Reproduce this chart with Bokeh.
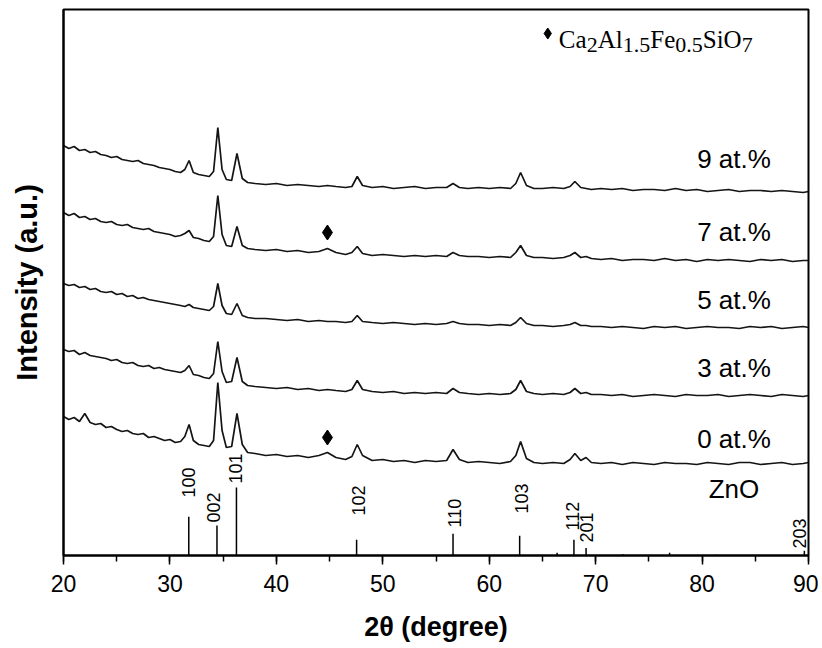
import numpy as np
from bokeh.plotting import figure
from bokeh.models import Range1d, SingleIntervalTicker, FixedTicker, ColumnDataSource
from bokeh.core.properties import value
from bokeh.embed import file_html
from bokeh.resources import INLINE

# ---------------- data ----------------
two_theta = [
    20, 20.5, 21, 21.5, 22, 22.5, 23, 23.5, 24, 24.5, 25, 25.5, 26, 26.5, 27, 27.5, 28, 28.5, 29, 29.5, 30, 30.5, 31,
    31.4, 31.8, 32.2, 32.7, 33.2, 33.7, 34.1, 34.5, 34.9, 35.3, 35.8, 36.3, 36.8, 37.3, 38,
    39, 40, 41, 42, 43, 44, 44.8, 45.6, 46.5, 47.1, 47.6, 48.1,
    49, 50, 51, 52, 53, 54, 55, 56, 56.6, 57.2, 58, 59, 60, 61, 62, 62.5, 62.95, 63.5, 64.2,
    65, 66, 67, 67.6, 68.05, 68.6, 69.1, 69.6,
    70.5, 71.5, 72.5, 73.5, 74.5, 75.5, 76.5, 77.5, 78.5, 79.5, 80.5, 81.5, 82.5, 83.5, 84.5, 85.5, 86.5, 87.5, 88.5, 89.5, 90,
]

int_0at = [
    47, 44, 46, 42, 50, 41, 39, 40, 36, 37, 34, 32, 33, 30, 29, 30, 26, 27, 25, 23, 24, 21, 22,
    27, 39, 23, 19, 18, 17, 23, 81, 33, 16, 17, 50, 19, 11, 10,
    8, 9, 7, 8, 6, 8, 11, 6, 4, 7, 19, 8,
    3, 4, 2, 3, 1, 3, 2, 3, 14, 4, 1, 2, 1, 0, 2, 8, 22, 5, 1,
    0, 1, 0, 4, 10, 3, 6, 1,
    0, 1, -1, 1, 0, -1, 1, 0, 0, -1, 1, 0, -1, 1, 1, -1, 0, 1, -1, 0, 1,
]
int_3at = [
    46, 44, 45, 41, 43, 40, 39, 38, 37, 35, 36, 33, 32, 33, 30, 29, 30, 27, 28, 26, 25, 24, 23,
    25, 30, 21, 20, 18, 17, 22, 54, 24, 13, 14, 38, 14, 10, 9,
    8, 7, 8, 6, 7, 5, 6, 5, 4, 6, 15, 6,
    4, 3, 4, 2, 3, 2, 3, 2, 7, 3, 2, 1, 2, 1, 2, 6, 15, 4, 2,
    1, 2, 1, 3, 7, 2, 3, 1,
    1, 0, 1, -1, 0, 1, 0, -1, 1, 0, 0, 1, -1, 0, 1, 0, -1, 1, 0, -1, 0,
]
int_5at = [
    44, 42, 43, 40, 41, 38, 39, 36, 35, 36, 33, 34, 31, 32, 29, 30, 28, 27, 26, 25, 24, 23, 22,
    21, 23, 20, 19, 18, 17, 21, 44, 22, 14, 13, 24, 12, 10, 9,
    9, 8, 7, 8, 6, 7, 6, 6, 5, 6, 12, 6,
    5, 4, 5, 4, 3, 4, 3, 4, 6, 4, 3, 3, 2, 3, 2, 5, 10, 4, 2,
    2, 1, 2, 3, 5, 2, 2, 1,
    1, 0, 1, 0, -1, 1, 0, 1, -1, 0, 1, 0, 0, -1, 1, 0, 1, -1, 0, 1, 0,
]
int_7at = [
    48, 45, 47, 43, 44, 41, 42, 39, 38, 39, 36, 35, 36, 33, 32, 31, 32, 29, 28, 27, 26, 24, 25,
    27, 30, 23, 22, 20, 19, 24, 65, 26, 15, 14, 34, 15, 12, 11,
    10, 11, 9, 10, 8, 9, 12, 8, 6, 8, 14, 7,
    5, 6, 5, 4, 5, 4, 5, 4, 8, 5, 4, 4, 3, 4, 3, 8, 15, 5, 3,
    3, 2, 3, 5, 8, 3, 4, 2,
    1, 2, 0, 1, 1, 0, 2, 0, 1, -1, 1, 0, 1, 0, -1, 1, 0, 1, -1, 0, 0,
]
int_9at = [
    46, 43, 45, 41, 42, 39, 40, 37, 36, 34, 35, 32, 31, 30, 31, 28, 27, 26, 24, 23, 22, 20, 19,
    22, 31, 19, 17, 16, 15, 20, 64, 22, 12, 11, 38, 13, 9, 8,
    7, 8, 6, 7, 6, 5, 6, 5, 4, 5, 15, 6,
    4, 5, 3, 4, 5, 3, 4, 4, 8, 4, 3, 4, 3, 4, 3, 8, 19, 6, 3,
    3, 4, 3, 5, 10, 4, 3, 2,
    3, 2, 3, 1, 2, 2, 1, 3, 1, 2, 0, 1, 2, 0, 1, 1, 0, 1, 0, -1, 0,
]

sample_names = ["0 at.%", "3 at.%", "5 at.%", "7 at.%", "9 at.%"]
sample_offsets = [92, 160, 228, 295, 364]
sample_label_x = 83.0
sample_label_y = [117, 188, 256, 324, 397]

# ZnO reference pattern (JCPDS 36-1451)
zno_pos = [31.77, 34.42, 36.25, 47.54, 56.60, 62.86, 66.38, 67.96, 69.10, 72.56, 76.95, 81.37, 89.61]
zno_int = [57, 44, 100, 23, 32, 29, 4, 23, 11, 2, 4, 1, 7]
hkl_text = ["100", "002", "101", "102", "110", "103", "112", "201", "203"]
hkl_x = [31.77, 34.42, 36.25, 47.54, 56.60, 62.86, 67.96, 69.10, 89.61]
hkl_y = [58, 33, 72, 40, 28, 42, 25, 13, 7]
hkl_dx = [0, -3, -1, 2, 1, 2, -1, 0, -5]

impurity_x = [44.8, 44.8]
impurity_y = [118, 323]

# ---------------- figure ----------------
p = figure(width=818, height=646, output_backend="svg", toolbar_location=None,
           x_range=Range1d(20, 90), y_range=Range1d(0, 546),
           min_border_left=63, min_border_right=10, min_border_top=9, min_border_bottom=91)
p.grid.visible = False
p.background_fill_color = "white"
p.border_fill_color = "white"
p.outline_line_color = "black"
p.outline_line_width = 2

SANS = "Liberation Sans"
SERIF = "Liberation Serif"

xax = p.xaxis[0]
xax.ticker = SingleIntervalTicker(interval=10, num_minor_ticks=2)
xax.axis_line_width = 2
xax.axis_line_color = "black"
xax.major_tick_in = 0
xax.major_tick_out = 9
xax.minor_tick_in = 0
xax.minor_tick_out = 6
xax.major_tick_line_width = 1.5
xax.minor_tick_line_width = 1.5
xax.major_tick_line_color = "black"
xax.minor_tick_line_color = "black"
xax.major_label_text_font = SANS
xax.major_label_text_font_size = "23px"
xax.major_label_text_color = "black"
xax.major_label_standoff = 10
xax.axis_label = "2θ (degree)"
xax.axis_label_text_font = SANS
xax.axis_label_text_font_style = "bold"
xax.axis_label_text_font_size = "27px"
xax.axis_label_text_color = "black"
xax.axis_label_standoff = 17

yax = p.yaxis[0]
yax.ticker = FixedTicker(ticks=[])
yax.major_tick_out = 0
yax.major_tick_in = 0
yax.minor_tick_out = 0
yax.minor_tick_in = 0
yax.major_label_standoff = 0
yax.major_label_text_font_size = "0px"
yax.axis_line_width = 2
yax.axis_label = "Intensity (a.u.)"
yax.axis_label_text_font = SANS
yax.axis_label_text_font_style = "bold"
yax.axis_label_text_font_size = "29px"
yax.axis_label_text_color = "black"
yax.axis_label_standoff = 21

# patterns
series = [int_0at, int_3at, int_5at, int_7at, int_9at]
for vals, off in zip(series, sample_offsets):
    y = [v + off for v in vals]
    p.line(two_theta, y, line_color="#141414", line_width=1.7)

p.text(x=[sample_label_x] * len(sample_names), y=sample_label_y, text=sample_names,
       text_font=value(SANS), text_font_size="26px", text_color="black",
       text_align="center", text_baseline="middle")

# ZnO sticks
stick_scale = 0.68
p.segment(x0=zno_pos, y0=[0] * len(zno_pos), x1=zno_pos,
          y1=[i * stick_scale for i in zno_int], line_color="black", line_width=1.5)
hkl_src = ColumnDataSource(dict(x=hkl_x, y=hkl_y, t=hkl_text, dx=hkl_dx))
p.text(x="x", y="y", text="t", x_offset="dx", source=hkl_src, angle=np.pi / 2,
       text_font=value(SANS), text_font_size="18px", text_color="black",
       text_align="left", text_baseline="middle")
p.text(x=[sample_label_x], y=[67], text=["ZnO"], text_font=value(SANS),
       text_font_size="26px", text_color="black", text_align="center", text_baseline="middle")

# impurity markers
p.scatter(impurity_x, impurity_y, marker="diamond", size=15, fill_color="black", line_color="black")

# legend for impurity phase
leg_x = 65.5
p.scatter([leg_x], [522], marker="diamond", size=11, fill_color="black", line_color="black")
main_parts = ["Ca", "Al", "Fe", "SiO"]
main_dx = [11, 50, 102.5, 155]
sub_parts = ["2", "1.5", "0.5", "7"]
sub_dx = [39, 75, 127.5, 194]
p.text(x=[leg_x] * 4, y=[516] * 4, text=main_parts, x_offset=main_dx,
       text_font=value(SERIF), text_font_size="25px", text_color="black",
       text_align="left", text_baseline="alphabetic")
p.text(x=[leg_x] * 4, y=[511] * 4, text=sub_parts, x_offset=sub_dx,
       text_font=value(SERIF), text_font_size="22px", text_color="black",
       text_align="left", text_baseline="alphabetic")

open("out.html", "w").write(file_html(p, INLINE))
